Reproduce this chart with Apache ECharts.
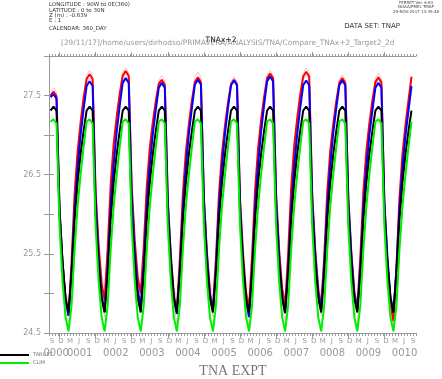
<!DOCTYPE html>
<html><head><meta charset="utf-8">
<script src="https://cdn.jsdelivr.net/npm/echarts@6/dist/echarts.min.js"></script>
<style>html,body{margin:0;padding:0;background:#fff}#c{width:442px;height:379px}</style>
</head><body><div id="c"></div>
<script>
// Monthly values, month index i sits at the middle of month i on the axis
const target = [
27.31,27.36,27.31,26.00,25.38,24.94,24.76,25.25,25.93,26.40,26.76,27.05,
27.31,27.36,27.31,26.00,25.38,24.94,24.76,25.25,25.93,26.40,26.76,27.05,
27.31,27.36,27.31,26.00,25.38,24.94,24.76,25.25,25.93,26.40,26.76,27.05,
27.31,27.36,27.31,26.00,25.38,24.94,24.76,25.25,25.93,26.40,26.76,27.05,
27.31,27.36,27.31,26.00,25.38,24.94,24.76,25.25,25.93,26.40,26.76,27.05,
27.31,27.36,27.31,26.00,25.38,24.94,24.76,25.25,25.93,26.40,26.76,27.05,
27.31,27.36,27.31,26.00,25.38,24.94,24.76,25.25,25.93,26.40,26.76,27.05,
27.31,27.36,27.31,26.00,25.38,24.94,24.76,25.25,25.93,26.40,26.76,27.05,
27.31,27.36,27.31,26.00,25.38,24.94,24.76,25.25,25.93,26.40,26.76,27.05,
27.31,27.36,27.31,26.00,25.38,24.94,24.76,25.25,25.93,26.40,26.76,27.05,
27.31];
const clim = [
27.17,27.20,27.15,25.85,25.15,24.70,24.52,24.85,25.55,26.10,26.50,26.85,
27.17,27.20,27.15,25.85,25.15,24.70,24.52,24.85,25.55,26.10,26.50,26.85,
27.17,27.20,27.15,25.85,25.15,24.70,24.52,24.85,25.55,26.10,26.50,26.85,
27.17,27.20,27.15,25.85,25.15,24.70,24.52,24.85,25.55,26.10,26.50,26.85,
27.17,27.20,27.15,25.85,25.15,24.70,24.52,24.85,25.55,26.10,26.50,26.85,
27.17,27.20,27.15,25.85,25.15,24.70,24.52,24.85,25.55,26.10,26.50,26.85,
27.17,27.20,27.15,25.85,25.15,24.70,24.52,24.85,25.55,26.10,26.50,26.85,
27.17,27.20,27.15,25.85,25.15,24.70,24.52,24.85,25.55,26.10,26.50,26.85,
27.17,27.20,27.15,25.85,25.15,24.70,24.52,24.85,25.55,26.10,26.50,26.85,
27.17,27.20,27.15,25.85,25.15,24.70,24.52,24.85,25.55,26.10,26.50,26.85,
27.17];
const redMean = [
27.50,27.55,27.49,26.08,25.40,24.92,24.72,25.39,26.25,26.79,27.16,27.47,
27.71,27.77,27.71,26.29,25.60,25.12,24.92,25.56,26.37,26.89,27.23,27.52,
27.75,27.81,27.75,26.35,25.67,25.20,25.00,25.59,26.35,26.84,27.16,27.43,
27.65,27.70,27.64,26.18,25.48,24.98,24.78,25.43,26.26,26.79,27.14,27.44,
27.67,27.73,27.67,26.21,25.50,25.01,24.80,25.44,26.25,26.77,27.12,27.41,
27.64,27.70,27.64,26.20,25.51,25.02,24.82,25.47,26.30,26.83,27.19,27.48,
27.72,27.78,27.72,26.26,25.55,25.06,24.85,25.50,26.33,26.86,27.21,27.51,
27.74,27.80,27.74,26.26,25.55,25.05,24.84,25.47,26.28,26.80,27.14,27.43,
27.66,27.72,27.66,26.21,25.52,25.02,24.82,25.46,26.28,26.80,27.15,27.44,
27.67,27.73,27.67,26.13,25.39,24.87,24.65,25.33,26.20,26.76,27.13,27.44,
27.74];
const blueMean = [
27.48,27.52,27.46,26.06,25.39,24.92,24.72,25.28,26.05,26.59,27.00,27.33,
27.62,27.68,27.62,26.17,25.47,24.97,24.77,25.33,26.10,26.63,27.04,27.37,
27.66,27.72,27.66,26.22,25.53,25.04,24.84,25.38,26.11,26.62,27.01,27.32,
27.60,27.66,27.60,26.14,25.44,24.94,24.74,25.30,26.07,26.60,27.02,27.34,
27.64,27.70,27.64,26.18,25.48,24.98,24.78,25.33,26.09,26.61,27.02,27.34,
27.63,27.69,27.63,26.14,25.42,24.91,24.70,25.28,26.07,26.62,27.04,27.38,
27.68,27.74,27.68,26.19,25.47,24.96,24.75,25.31,26.07,26.60,27.01,27.34,
27.63,27.69,27.63,26.19,25.49,25.00,24.80,25.35,26.10,26.62,27.03,27.34,
27.63,27.69,27.63,26.18,25.48,24.98,24.78,25.33,26.08,26.59,27.00,27.31,
27.60,27.66,27.60,26.15,25.46,24.96,24.76,25.31,26.07,26.59,26.99,27.31,
27.62];
const memberA = [
27.55,27.60,27.54,26.04,25.32,24.81,24.60,25.21,26.05,26.63,27.08,27.43,
27.76,27.82,27.76,26.20,25.45,24.92,24.70,25.29,26.09,26.64,27.07,27.41,
27.72,27.78,27.72,26.31,25.63,25.15,24.95,25.48,26.21,26.71,27.11,27.41,
27.69,27.75,27.69,26.12,25.37,24.84,24.62,25.22,26.05,26.62,27.07,27.42,
27.74,27.80,27.74,26.19,25.44,24.92,24.70,25.27,26.06,26.60,27.03,27.36,
27.66,27.72,27.66,26.10,25.35,24.82,24.60,25.21,26.05,26.63,27.08,27.43,
27.76,27.82,27.76,26.17,25.41,24.87,24.65,25.26,26.09,26.67,27.11,27.47,
27.79,27.85,27.79,26.22,25.47,24.94,24.72,25.30,26.09,26.64,27.06,27.40,
27.70,27.76,27.70,26.12,25.36,24.82,24.60,25.20,26.03,26.60,27.05,27.40,
27.72,27.78,27.72,26.10,25.33,24.78,24.55,25.17,26.01,26.60,27.05,27.41,
27.74];
const memberB = [
27.45,27.50,27.45,26.12,25.49,25.04,24.85,25.40,26.14,26.66,27.06,27.38,
27.66,27.72,27.67,26.33,25.69,25.24,25.05,25.58,26.31,26.81,27.21,27.51,
27.79,27.85,27.79,26.26,25.53,25.01,24.80,25.35,26.10,26.61,27.02,27.33,
27.62,27.68,27.62,26.23,25.57,25.09,24.90,25.43,26.16,26.66,27.06,27.36,
27.64,27.70,27.65,26.27,25.61,25.14,24.95,25.48,26.21,26.71,27.10,27.41,
27.68,27.74,27.68,26.19,25.47,24.96,24.75,25.31,26.09,26.62,27.04,27.36,
27.66,27.72,27.66,26.25,25.58,25.10,24.90,25.44,26.19,26.70,27.10,27.42,
27.70,27.76,27.70,26.30,25.62,25.15,24.95,25.47,26.19,26.68,27.07,27.37,
27.65,27.70,27.64,26.23,25.56,25.08,24.88,25.42,26.15,26.66,27.05,27.36,
27.64,27.70,27.64,26.19,25.50,25.00,24.80,25.35,26.11,26.64,27.05,27.37,
27.66];
const monthLetters = ['S','D','M','J'];
const yearLabels = ['0000','0001','0002','0003','0004','0005','0006','0007','0008','0009','0010'];
const yTickLabels = [24.5, 25.5, 26.5, 27.5];
const yTicks = [24.5, 25.0, 25.5, 26.0, 26.5, 27.0, 27.5, 28.0];
const legendNames = ['TARGET', 'CLIM'];

// ---- layout helpers (positions, not data) ----
const XMAX = 122;
const monthTickPos = []; for (let m = 0; m <= XMAX; m++) monthTickPos.push(m);
const monthLabelPos = []; for (let j = 0; j <= 40; j++) monthLabelPos.push(1 + 3 * j);
const majorTickPos = []; for (let k = 0; k <= 10; k++) majorTickPos.push(3.5 + 12 * k);
const yearPos = yearLabels.map((_, k) => k === 0 ? 2.4 : 12 * k - 1.8);
const pairs = arr => arr.map((v, i) => [i + 0.5, v]);
const yearName = v => { const idx = yearPos.findIndex(p => Math.abs(p - v) < 0.01); return idx >= 0 ? yearLabels[idx] : ''; };

const gray = '#999';
const chart = echarts.init(document.getElementById('c'), null, {renderer: 'canvas'});
function lineSeries(name, arr, color, width, opacity, z) {
  return {name, type: 'line', data: pairs(arr), symbol: 'none', z,
    lineStyle: {color, width, opacity}, xAxisIndex: 0, yAxisIndex: 0, animation: false};
}
const yearAxisBase = (vals, showTicks) => ({type: 'value', position: 'bottom', min: 0, max: XMAX,
  axisLine: {show: false}, splitLine: {show: false},
  axisTick: {show: showTicks, length: 5, customValues: majorTickPos, lineStyle: {color: gray}},
  axisLabel: {show: true, customValues: vals, margin: 15, color: gray, fontSize: 10, fontFamily: 'DejaVu Sans',
    hideOverlap: false, showMinLabel: true, showMaxLabel: true, formatter: yearName}});
chart.setOption({
  animation: false,
  backgroundColor: '#fff',
  grid: {left: 49, right: 26, top: 56, bottom: 46},
  xAxis: [
    {type: 'value', position: 'bottom', min: 0, max: XMAX,
      axisLine: {show: true, lineStyle: {color: gray, width: 1}},
      splitLine: {show: false},
      axisTick: {show: true, inside: false, length: 3, customValues: monthTickPos, lineStyle: {color: gray}},
      axisLabel: {show: true, customValues: monthLabelPos, margin: 5, color: gray, fontSize: 7, fontFamily: 'DejaVu Sans',
        formatter: v => monthLetters[Math.round((v - 1) / 3) % 4]}},
    yearAxisBase(yearPos.slice(1), true),
    yearAxisBase(yearPos.slice(0, 1), false),
    {type: 'value', position: 'top', min: 0, max: XMAX,
      axisLine: {show: true, lineStyle: {color: gray}}, splitLine: {show: false},
      axisTick: {show: true, length: 2, customValues: monthTickPos, lineStyle: {color: gray}},
      axisLabel: {show: false}},
    {type: 'value', position: 'top', min: 0, max: XMAX,
      axisLine: {show: false}, splitLine: {show: false},
      axisTick: {show: true, length: 4, customValues: majorTickPos, lineStyle: {color: gray}},
      axisLabel: {show: false}}
  ],
  yAxis: [
    {type: 'value', position: 'left', min: 24.5, max: 28.0, interval: 0.5,
      axisLine: {show: true, lineStyle: {color: gray}}, splitLine: {show: false},
      axisTick: {show: true, length: 5, customValues: yTicks, lineStyle: {color: gray}},
      axisLabel: {show: true, customValues: yTickLabels, margin: 8, color: gray, fontSize: 8, fontFamily: 'DejaVu Sans',
        formatter: v => v.toFixed(1)}},
    {type: 'value', position: 'right', min: 24.5, max: 28.0, interval: 0.5,
      axisLine: {show: true, lineStyle: {color: gray}}, splitLine: {show: false},
      axisTick: {show: true, length: 5, customValues: yTicks, lineStyle: {color: gray}},
      axisLabel: {show: false}}
  ],
  series: [
    lineSeries('member A', memberA, '#f08080', 1, 0.45, 1),
    lineSeries('member B', memberB, '#f08080', 1, 0.45, 1),
    lineSeries('red', redMean, '#ff0000', 2, 1, 2),
    lineSeries('blue', blueMean, '#0000ff', 2, 1, 3),
    lineSeries(legendNames[0], target, '#000000', 2, 1, 4),
    lineSeries(legendNames[1], clim, '#00ee00', 2, 1, 5)
  ],
  graphic: [
    {type: 'text', left: 49, top: 2, style: {text: 'LONGITUDE : 90W to 0E(360)\nLATITUDE : 0 to 30N\nZ (m) : -0.639\nE : 1', fill: '#333', fontSize: 5.5, fontFamily: 'DejaVu Sans', lineHeight: 5.2}},
    {type: 'text', left: 49, top: 25.5, style: {text: 'CALENDAR: 360_DAY', fill: '#333', fontSize: 5.5, fontFamily: 'DejaVu Sans'}},
    {type: 'text', x: 416, y: 1, style: {text: 'FERRET Ver. 6.93\nNOAA/PMEL TMAP\n29-NOV-2017 13:39:48', fill: '#444', fontSize: 4, fontFamily: 'DejaVu Sans', lineHeight: 4.2, align: 'center', verticalAlign: 'top'}},
    {type: 'text', x: 400, y: 26, style: {text: 'DATA SET: TNAP', fill: '#333', fontSize: 7, fontFamily: 'DejaVu Sans', align: 'right', verticalAlign: 'middle'}},
    {type: 'text', x: 61, y: 43, style: {text: '[29/11/17]/home/users/dirhodso/PRIMAVERA/ANALYSIS/TNA/Compare_TNAx+2_Target2_2d', fill: '#999', fontSize: 7.4, fontFamily: 'DejaVu Sans', align: 'left', verticalAlign: 'middle'}},
    {type: 'text', x: 221, y: 40, style: {text: 'TNAx+2', fill: '#222', fontSize: 7.5, fontFamily: 'DejaVu Sans', align: 'center', verticalAlign: 'middle'}},
    {type: 'text', x: 233, y: 371, style: {text: 'TNA EXPT', fill: '#777', fontSize: 14, fontFamily: 'Liberation Serif', align: 'center', verticalAlign: 'middle'}},
    {type: 'line', shape: {x1: 0, y1: 355, x2: 29, y2: 355}, style: {stroke: '#000', lineWidth: 2}},
    {type: 'line', shape: {x1: 0, y1: 363, x2: 29, y2: 363}, style: {stroke: '#00ee00', lineWidth: 2}},
    {type: 'text', x: 33, y: 355, style: {text: legendNames[0], fill: '#777', fontSize: 5, fontFamily: 'DejaVu Sans', verticalAlign: 'middle'}},
    {type: 'text', x: 33, y: 363, style: {text: legendNames[1], fill: '#777', fontSize: 5, fontFamily: 'DejaVu Sans', verticalAlign: 'middle'}}
  ]
});
</script></body></html>
